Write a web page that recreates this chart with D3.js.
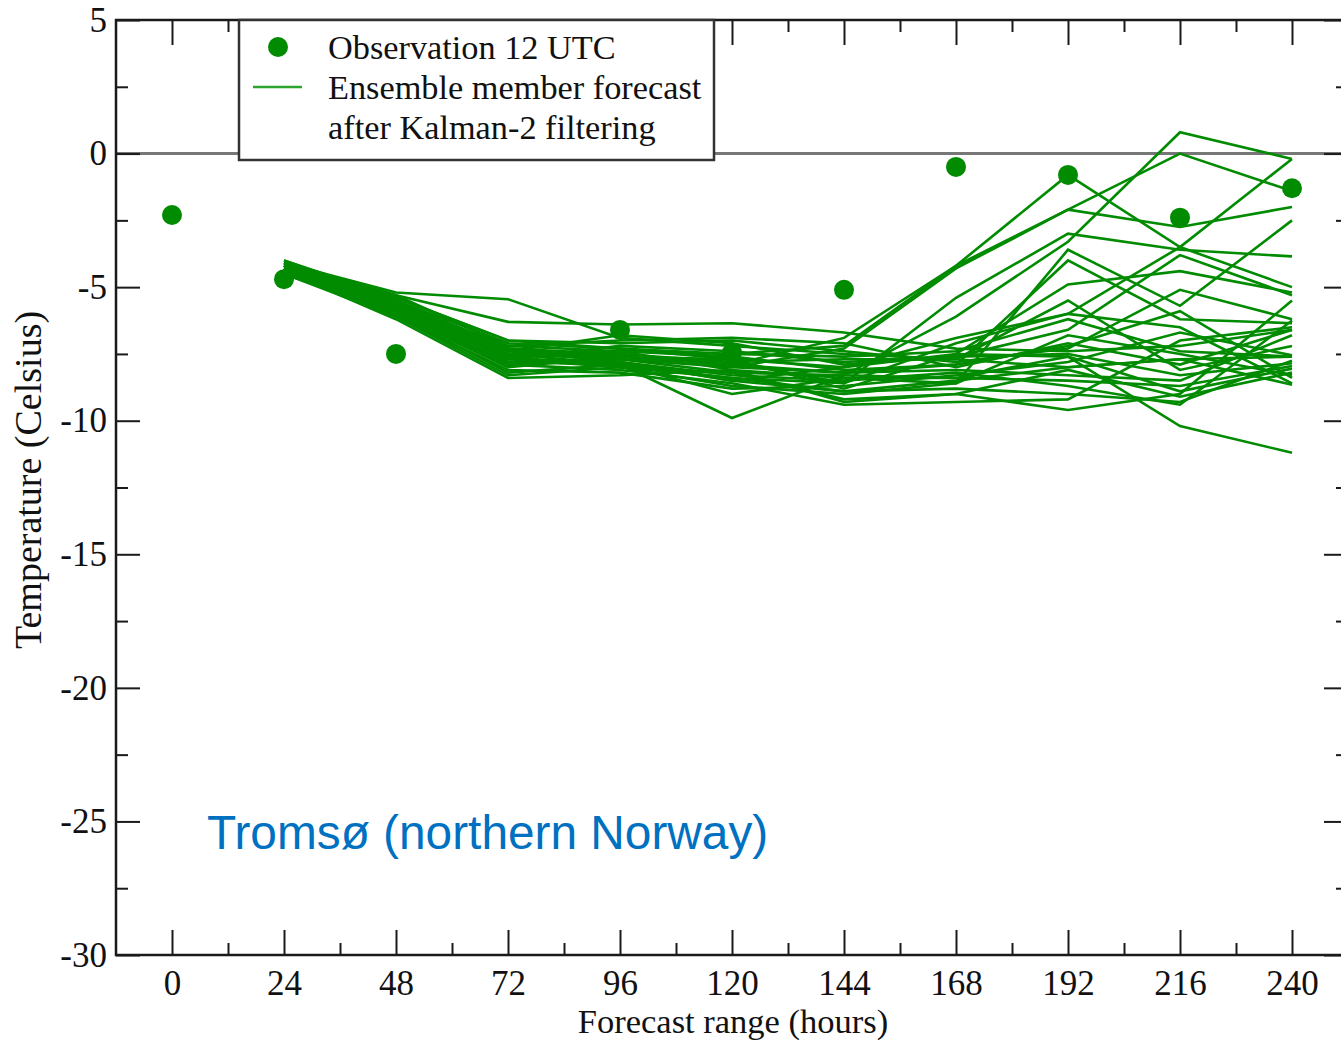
<!DOCTYPE html>
<html>
<head>
<meta charset="utf-8">
<script src="https://cdn.jsdelivr.net/npm/d3@7"></script>
<style>
  body { margin: 0; background: #fff; }
  svg text { font-family: "Liberation Serif", "DejaVu Serif", serif; fill: #111; }
</style>
</head>
<body>
<div id="chart"></div>
<script>

var obsHours = [0, 24, 48, 96, 120, 144, 168, 192, 216, 240];
var obsTemps = [-2.3, -4.7, -7.5, -6.6, -7.45, -5.1, -0.5, -0.8, -2.4, -1.3];

// forecast steps of every ensemble member
var memberHours = [24, 48, 72, 96, 120, 144, 168, 192, 216, 240];

// ensemble members after Kalman-2 filtering (one row per member)
var members = [
  [-4.1, -5.2, -5.45, -6.9, -7.2, -7.5, -7.7, -8.0, -7.7, -7.6],
  [-4.15, -5.3, -6.3, -6.4, -6.35, -6.7, -7.3, -7.4, -7.2, -6.6],
  [-4.3, -5.6, -7.2, -7.4, -7.5, -7.2, -4.2, -0.8, -3.5, -5.0],
  [-4.2, -5.7, -7.4, -7.6, -7.9, -6.9, -4.2, -2.1, 0.0, -1.4],
  [-4.4, -5.8, -7.6, -7.5, -8.0, -7.3, -4.3, -2.1, -2.75, -2.0],
  [-4.1, -5.5, -7.3, -7.7, -8.2, -8.3, -6.1, -3.3, 0.8, -0.2],
  [-4.3, -5.9, -7.8, -7.8, -8.5, -8.0, -6.9, -6.0, -3.5, -0.2],
  [-4.2, -5.6, -7.5, -7.9, -9.9, -8.3, -8.4, -7.6, -10.2, -11.2],
  [-4.5, -6.0, -8.0, -7.6, -7.8, -8.6, -5.4, -3.0, -3.6, -3.85],
  [-4.0, -5.5, -7.1, -7.3, -7.7, -8.8, -7.5, -4.9, -4.4, -5.2],
  [-4.3, -6.1, -8.3, -8.0, -8.7, -9.0, -8.6, -3.6, -5.7, -2.5],
  [-4.2, -5.8, -7.7, -7.2, -7.4, -7.8, -7.6, -6.6, -3.8, -5.3],
  [-4.4, -6.2, -8.4, -8.3, -8.1, -9.3, -9.0, -9.6, -9.0, -5.5],
  [-4.1, -5.4, -7.0, -7.1, -7.0, -7.4, -7.8, -7.3, -5.1, -6.2],
  [-4.3, -5.7, -7.4, -7.8, -8.3, -8.5, -8.2, -8.7, -9.4, -6.25],
  [-4.2, -5.6, -7.6, -7.4, -7.6, -8.1, -7.9, -4.0, -6.2, -6.35],
  [-4.4, -5.9, -7.9, -8.1, -8.6, -9.4, -9.3, -9.2, -7.0, -6.5],
  [-4.1, -5.3, -7.2, -7.0, -6.9, -7.1, -8.0, -7.1, -7.9, -6.6],
  [-4.3, -5.8, -7.5, -7.7, -8.0, -8.2, -8.1, -8.3, -8.5, -6.8],
  [-4.2, -5.7, -7.3, -7.5, -7.8, -7.7, -7.7, -5.5, -8.1, -7.2],
  [-4.5, -6.1, -8.1, -8.2, -8.8, -8.7, -8.3, -7.8, -6.7, -7.55],
  [-4.0, -5.4, -7.0, -7.3, -7.5, -7.6, -7.4, -6.2, -7.4, -7.6],
  [-4.3, -5.9, -7.8, -7.9, -8.4, -8.9, -8.8, -9.0, -9.3, -7.75],
  [-4.2, -5.5, -7.4, -6.8, -7.1, -7.9, -7.6, -7.5, -8.3, -7.85],
  [-4.4, -6.0, -8.2, -7.9, -9.0, -8.4, -8.4, -8.5, -8.7, -7.95],
  [-4.1, -5.6, -7.3, -7.6, -7.7, -8.0, -7.5, -7.6, -8.9, -8.05],
  [-4.3, -5.8, -7.6, -8.0, -8.2, -9.2, -9.0, -8.1, -9.1, -8.2],
  [-4.2, -5.7, -7.5, -7.4, -8.1, -8.4, -8.6, -6.8, -7.5, -8.3],
  [-4.4, -6.0, -7.9, -7.7, -7.9, -8.2, -7.9, -7.2, -5.9, -8.4],
  [-4.2, -5.7, -7.7, -8.0, -8.4, -8.6, -7.1, -6.0, -6.5, -8.6],
  [-4.3, -5.8, -7.7, -7.8, -8.5, -8.9, -8.5, -8.0, -7.7, -8.65]
];

// tick values
var xMajorTicks = [0, 24, 48, 72, 96, 120, 144, 168, 192, 216, 240];
var xMinorTicks = [12, 36, 60, 84, 108, 132, 156, 180, 204, 228];
var yMajorTicks = [5, 0, -5, -10, -15, -20, -25, -30];
var yMinorTicks = [2.5, -2.5, -7.5, -12.5, -17.5, -22.5, -27.5];

var legendLabels = ["Observation 12 UTC", "Ensemble member forecast", "after Kalman-2 filtering"];

var width = 1341;
var height = 1042;
var plot = { left: 116, right: 1348, top: 20, bottom: 955 };
var green = "#008b00";
var axisColor = "#1a1a1a";

var x = d3.scaleLinear().domain([-12, 252]).range([plot.left, plot.right]);
var y = d3.scaleLinear().domain([-30, 5]).range([plot.bottom, plot.top]);

var svg = d3.select("#chart")
  .append("svg")
  .attr("width", width)
  .attr("height", height);

// zero line
svg.append("line")
  .attr("x1", plot.left).attr("x2", plot.right)
  .attr("y1", y(0)).attr("y2", y(0))
  .attr("stroke", "#777")
  .attr("stroke-width", 3);

// ticks: all inward, majors long, minors short
function styleAxis(g) {
  g.select(".domain").remove();
  g.selectAll(".tick line").attr("stroke", axisColor).attr("stroke-width", 2);
  g.selectAll(".tick text")
    .attr("fill", "#111")
    .style("font-family", '"Liberation Serif", serif')
    .style("font-size", "35px");
}

function noLabel() { return ""; }

svg.append("g")
  .attr("transform", "translate(0," + plot.bottom + ")")
  .call(d3.axisBottom(x).tickValues(xMajorTicks).tickSize(-25).tickPadding(15)
    .tickFormat(function (d) { return String(d); }))
  .call(styleAxis);
svg.append("g")
  .attr("transform", "translate(0," + plot.bottom + ")")
  .call(d3.axisBottom(x).tickValues(xMinorTicks).tickSize(-12).tickFormat(noLabel))
  .call(styleAxis);
svg.append("g")
  .attr("transform", "translate(0," + plot.top + ")")
  .call(d3.axisTop(x).tickValues(xMajorTicks).tickSize(-25).tickFormat(noLabel))
  .call(styleAxis);
svg.append("g")
  .attr("transform", "translate(0," + plot.top + ")")
  .call(d3.axisTop(x).tickValues(xMinorTicks).tickSize(-12).tickFormat(noLabel))
  .call(styleAxis);

svg.append("g")
  .attr("transform", "translate(" + plot.left + ",0)")
  .call(d3.axisLeft(y).tickValues(yMajorTicks).tickSize(-24).tickPadding(9)
    .tickFormat(function (d) { return String(d); }))
  .call(styleAxis);
svg.append("g")
  .attr("transform", "translate(" + plot.left + ",0)")
  .call(d3.axisLeft(y).tickValues(yMinorTicks).tickSize(-12).tickFormat(noLabel))
  .call(styleAxis);
svg.append("g")
  .attr("transform", "translate(" + plot.right + ",0)")
  .call(d3.axisRight(y).tickValues(yMajorTicks).tickSize(-24).tickFormat(noLabel))
  .call(styleAxis);
svg.append("g")
  .attr("transform", "translate(" + plot.right + ",0)")
  .call(d3.axisRight(y).tickValues(yMinorTicks).tickSize(-12).tickFormat(noLabel))
  .call(styleAxis);

// frame
svg.append("rect")
  .attr("x", plot.left).attr("y", plot.top)
  .attr("width", plot.right - plot.left)
  .attr("height", plot.bottom - plot.top)
  .attr("fill", "none")
  .attr("stroke", axisColor)
  .attr("stroke-width", 2.5);

// ensemble members
var line = d3.line()
  .x(function (d, i) { return x(memberHours[i]); })
  .y(function (d) { return y(d); });

svg.append("g")
  .selectAll("path")
  .data(members)
  .enter().append("path")
  .attr("d", line)
  .attr("fill", "none")
  .attr("stroke", green)
  .attr("stroke-width", 2.6)
  .attr("stroke-linejoin", "miter");

// observations
svg.append("g")
  .selectAll("circle")
  .data(obsTemps)
  .enter().append("circle")
  .attr("cx", function (d, i) { return x(obsHours[i]); })
  .attr("cy", function (d) { return y(d); })
  .attr("r", 10)
  .attr("fill", green);

// legend box (covers ticks and zero line beneath it)
var legend = svg.append("g");
legend.append("rect")
  .attr("x", 239).attr("y", plot.top)
  .attr("width", 475).attr("height", 140)
  .attr("fill", "#fff")
  .attr("stroke", "#333")
  .attr("stroke-width", 2.5);
legend.append("circle")
  .attr("cx", 278).attr("cy", 47).attr("r", 10)
  .attr("fill", green);
legend.append("line")
  .attr("x1", 253).attr("x2", 302)
  .attr("y1", 87).attr("y2", 87)
  .attr("stroke", "#2ea52e")
  .attr("stroke-width", 2.5);
legend.selectAll("text")
  .data(legendLabels)
  .enter().append("text")
  .attr("x", 328)
  .attr("y", function (d, i) { return 59 + i * 40; })
  .style("font-size", "34.3px")
  .text(function (d) { return d; });

// axis titles
svg.append("text")
  .attr("x", 733).attr("y", 1033)
  .attr("text-anchor", "middle")
  .style("font-size", "34.5px")
  .text("Forecast range (hours)");

svg.append("text")
  .attr("transform", "translate(41,480) rotate(-90)")
  .attr("text-anchor", "middle")
  .style("font-size", "38px")
  .text("Temperature (Celsius)");

// station annotation
svg.append("text")
  .attr("x", 207).attr("y", 849)
  .style("font-family", '"Liberation Sans", Arial, sans-serif')
  .style("font-size", "47.8px")
  .style("fill", "#0070c0")
  .text("Tromsø (northern Norway)");

</script>
</body>
</html>
